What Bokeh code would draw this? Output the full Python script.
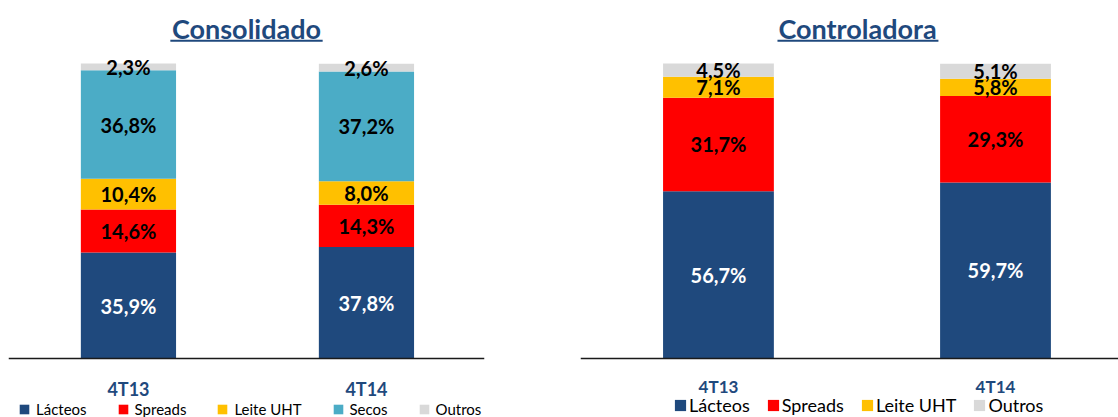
from bokeh.plotting import figure
from bokeh.layouts import row
from bokeh.models import Range1d, Legend, LegendItem, ColumnDataSource, Label, Span
from bokeh.core.properties import value
from bokeh.embed import file_html
from bokeh.resources import INLINE

categories = ["4T13", "4T14"]

cons_series = ["Lácteos", "Spreads", "Leite UHT", "Secos", "Outros"]
cons_lacteos = [35.9, 37.8]
cons_spreads = [14.6, 14.3]
cons_leite = [10.4, 8.0]
cons_secos = [36.8, 37.2]
cons_outros = [2.3, 2.6]

ctrl_series = ["Lácteos", "Spreads", "Leite UHT", "Outros"]
ctrl_lacteos = [56.7, 59.7]
ctrl_spreads = [31.7, 29.3]
ctrl_leite = [7.1, 5.8]
ctrl_outros = [4.5, 5.1]

COLORS = {"Lácteos": "#1F497D", "Spreads": "#FF0000", "Leite UHT": "#FFC000",
          "Secos": "#4BACC6", "Outros": "#D9D9D9"}
LABEL_COLORS = {"Lácteos": "white"}
TITLE_COLOR = "#1F497D"
FONT = "Lato"


def fmt(v):
    return ("%.1f" % v).replace(".", ",") + "%"


def make_chart(title, series, values, width, xr, border_left, border_right, title_x, ul,
               cat_size, cat_offset, leg_font, leg_glyph, leg_spacing, leg_standoff, leg_loc):
    p = figure(width=width, height=417, output_backend="svg", toolbar_location=None,
               x_range=Range1d(*xr), y_range=Range1d(-20.0, 118.64),
               min_border_left=border_left, min_border_right=border_right,
               min_border_top=8, min_border_bottom=0)
    p.outline_line_color = None
    p.xgrid.visible = False
    p.ygrid.visible = False
    p.xaxis.visible = False
    p.yaxis.visible = False

    idx = list(range(len(categories)))
    data = {"x": idx, "cat": categories}
    for s, v in zip(series, values):
        data[s] = v
    src = ColumnDataSource(data)
    renderers = p.vbar_stack(series, x="x", width=0.4, source=src,
                             fill_color=[COLORS[s] for s in series],
                             line_color=None)

    # baseline (category axis line)
    p.add_layout(Span(location=0, dimension="width", line_color="#1a1a1a", line_width=1.3))

    # category labels below the baseline
    p.text(x="x", y=0, text="cat", source=src, y_offset=cat_offset,
           text_align="center", text_baseline="middle",
           text_font=value(FONT), text_font_style="bold", text_font_size=cat_size,
           text_color=TITLE_COLOR)

    # segment labels
    lx, ly, lt, lc = [], [], [], []
    base = [0.0] * len(categories)
    for s, v in zip(series, values):
        for i, val in enumerate(v):
            lx.append(i)
            ly.append(base[i] + val / 2.0)
            lt.append(fmt(val))
            lc.append(LABEL_COLORS.get(s, "black"))
            base[i] += val
    p.text(x="x", y="y", text="t", text_color="c",
           source=ColumnDataSource(dict(x=lx, y=ly, t=lt, c=lc)),
           text_align="center", text_baseline="middle",
           text_font=value(FONT), text_font_style="bold", text_font_size="20px")

    # title with underline
    p.add_layout(Label(x=title_x, y=112.0, text=title, text_align="center",
                       text_baseline="alphabetic", text_font=FONT,
                       text_font_style="bold", text_font_size="27px",
                       text_color=TITLE_COLOR))
    p.segment(x0=[ul[0]], x1=[ul[1]], y0=[107.7], y1=[107.7],
              line_color=TITLE_COLOR, line_width=2)

    legend = Legend(items=[LegendItem(label=s, renderers=[r]) for s, r in zip(series, renderers)],
                    orientation="horizontal", location=leg_loc,
                    padding=0, margin=0, spacing=leg_spacing,
                    border_line_color=None, background_fill_alpha=0,
                    glyph_width=leg_glyph, glyph_height=leg_glyph,
                    label_standoff=leg_standoff, label_height=18,
                    label_text_font=FONT, label_text_font_size=leg_font,
                    label_text_color="black")
    p.add_layout(legend, "center")
    return p


left = make_chart("Consolidado", cons_series,
                  [cons_lacteos, cons_spreads, cons_leite, cons_secos, cons_outros],
                  580, (-0.504, 1.496), 8, 96, 0.496, (0.176, 0.816), "18px", 31,
                  "15px", 12, 30, 6, (10, -1))
right = make_chart("Controladora", ctrl_series,
                   [ctrl_lacteos, ctrl_spreads, ctrl_leite, ctrl_outros],
                   538, (-0.498, 1.444), 0, 0, 0.502, (0.213, 0.794), "17px", 28,
                   "18px", 14, 16, 2, (93, 1))

layout = row(left, right)
open("out.html", "w").write(file_html(layout, INLINE))
